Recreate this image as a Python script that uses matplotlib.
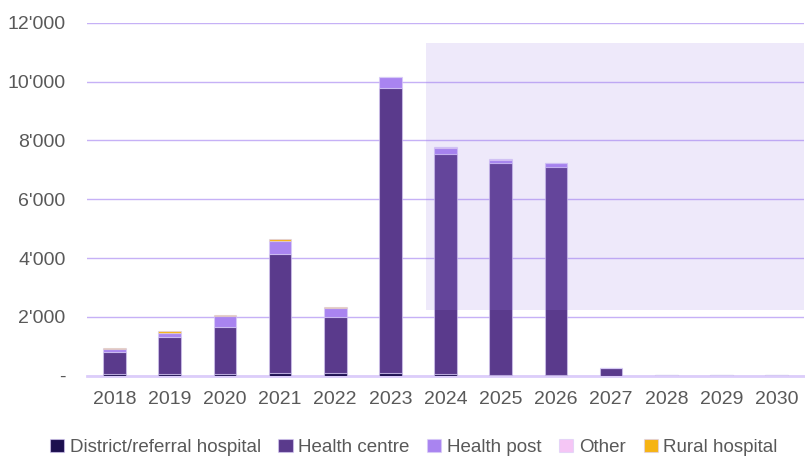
import matplotlib.pyplot as plt
import matplotlib.patches as mpatches
import numpy as np

plt.rcParams['font.family'] = ['Liberation Sans', 'DejaVu Sans']

years = ["2018", "2019", "2020", "2021", "2022", "2023", "2024",
         "2025", "2026", "2027", "2028", "2029", "2030"]
district = [50, 50, 60, 90, 80, 80, 40, 30, 30, 0, 0, 0, 0]
health_centre = [770, 1250, 1580, 4050, 1930, 9710, 7490, 7220, 7080, 260, 15, 15, 15]
health_post = [100, 150, 390, 430, 300, 360, 200, 90, 110, 0, 0, 0, 0]
other = [0, 0, 0, 0, 0, 0, 50, 20, 10, 0, 0, 0, 0]
rural = [30, 60, 30, 70, 40, 20, 10, 10, 0, 0, 0, 0, 0]

series = [("District/referral hospital", district, "#1c0f4f"),
          ("Health centre", health_centre, "#5a3a8c"),
          ("Health post", health_post, "#a984f0"),
          ("Other", other, "#f5c6f5"),
          ("Rural hospital", rural, "#f6b413")]

fig = plt.figure(figsize=(8.05, 4.57), dpi=100)
ax = fig.add_axes([0.108, 0.178, 0.891, 0.772])

x = np.arange(len(years))
bottom = np.zeros(len(years))
for name, vals, col in series:
    ax.bar(x, vals, 0.41, bottom=bottom, color=col, label=name,
           edgecolor=(0.85, 0.8, 0.97, 0.6), linewidth=0.8, zorder=3)
    bottom += np.array(vals)

# projection shading
ax.add_patch(mpatches.Rectangle((5.65, 2230), 7.0, 9080, facecolor="#9b7de6",
                                alpha=0.17, edgecolor="none", zorder=4))

ax.set_xlim(-0.5, 12.5)
ax.set_ylim(0, 12000)
ax.set_yticks(range(0, 12001, 2000))
ax.set_yticklabels(["-", "2'000", "4'000", "6'000", "8'000", "10'000", "12'000"])
ax.set_xticks(x)
ax.set_xticklabels(years)
ax.tick_params(length=0, labelsize=14, colors="#595959")
ax.tick_params(axis="y", pad=15.5)
ax.tick_params(axis="x", pad=11)
ax.yaxis.grid(True, color="#c6b1f6", linewidth=1, zorder=0)
ax.set_axisbelow(True)
for s in ["top", "right", "left"]:
    ax.spines[s].set_visible(False)
ax.spines["bottom"].set_color("#dccdfa")
ax.spines["bottom"].set_linewidth(2)

fig.legend(loc="lower center", bbox_to_anchor=(0.514, -0.035), ncol=5, frameon=False,
           fontsize=13.5, handlelength=0.75, handleheight=0.75, handletextpad=0.3,
           columnspacing=0.95, labelcolor="#595959")

fig.savefig("out.png", dpi=100)
